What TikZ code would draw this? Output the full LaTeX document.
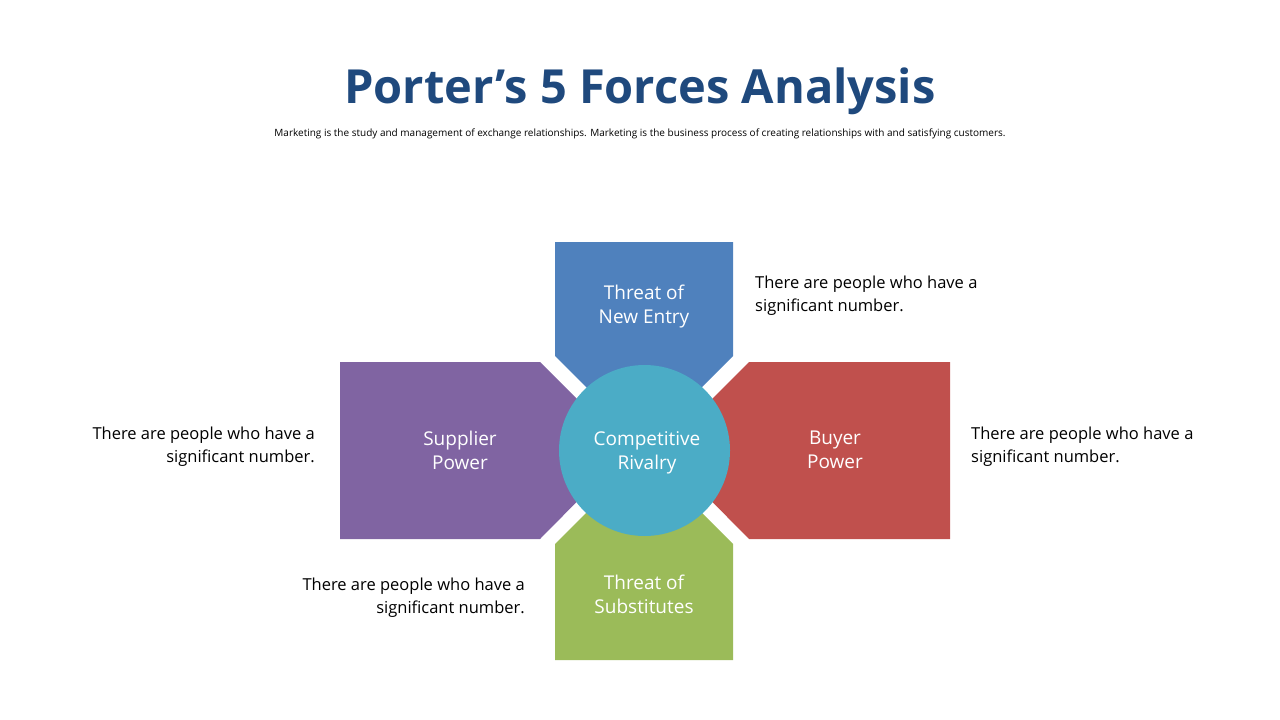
\documentclass[tikz,border=0pt]{standalone}
\usepackage{fontspec}
\setmainfont{Open Sans}
\usetikzlibrary{positioning}
\definecolor{titleblue}{HTML}{1F497D}
\definecolor{fblue}{HTML}{4F81BD}
\definecolor{fpurple}{HTML}{8064A2}
\definecolor{fred}{HTML}{C0504D}
\definecolor{fgreen}{HTML}{9BBB59}
\definecolor{fteal}{HTML}{4BACC6}
\tikzset{
  force/.style={white,font=\fontsize{19}{24}\selectfont,align=center},
  note/.style={font=\fontsize{16.5}{23}\selectfont,inner sep=0pt},
}
\begin{document}
\begin{tikzpicture}[x=1pt,y=-1pt]
        \useasboundingbox (0,0) rectangle (1280,720);
        \node[titleblue,font=\fontsize{47}{50}\selectfont\bfseries](title)at(640,91){Porter’s 5 Forces Analysis};
        \node[font=\fontsize{10}{12}\selectfont](sub)at(640,134){Marketing is the study and management of exchange relationships. Marketing is the business process of creating relationships with and satisfying customers.};

        % force shapes
        \fill[fblue](555,242)--(733,242)--(733,356)--(644,445)--(555,356)--cycle;
        \fill[fpurple](340,362)--(540,362)--(628,450)--(540,539)--(340,539)--cycle;
        \fill[fred](950,362)--(749,362)--(661,450)--(749,539)--(950,539)--cycle;
        \fill[fgreen](555,660)--(733,660)--(733,544)--(644,455)--(555,544)--cycle;
        \fill[fteal](644.5,450.5)circle(85.5);

        \node[force](entry)at(644,307){Threat of\\New Entry};
        \node[force](supplier)at(460,450){Supplier\\Power};
        \node[force](buyer)at(835,450){Buyer\\Power};
        \node[force](subst)at(644,594){Threat of\\Substitutes};
        \node[force](rivalry)at(647,453){Competitive\\Rivalry};

        \node[note,align=left,anchor=west](n1)at(755,296){There are people who have a\\significant number.};
        \node[note,align=right,anchor=east](n2)at(315,447){There are people who have a\\significant number.};
        \node[note,align=left,anchor=west](n3)at(971,447){There are people who have a\\significant number.};
        \node[note,align=right,anchor=east](n4)at(525,598){There are people who have a\\significant number.};
    \end{tikzpicture}
\end{document}
